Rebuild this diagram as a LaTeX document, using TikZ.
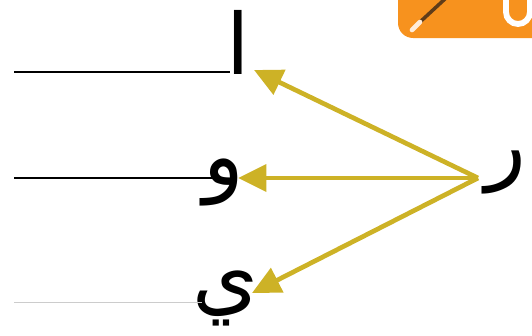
\documentclass[tikz,border=0pt]{standalone}
\usepackage{fontspec}
\usetikzlibrary{arrows.meta}
\newfontfamily\arabicfont[Script=Arabic]{DejaVu Sans}
\TeXXeTstate=1
\definecolor{arrowgold}{RGB}{205,178,38}
\definecolor{tagorange}{RGB}{247,146,30}
\definecolor{pencilbrown}{RGB}{95,60,25}
\begin{document}
\begin{tikzpicture}[
    x=0.03cm, y=-0.03cm,
    letter/.style={
        inner sep=0pt,
        font=\arabicfont\fontsize{72}{80}\selectfont
    },
    writeline/.style={
        line width=1.6pt,
        black
    },
    arrow/.style={
        -{Triangle[length=0.85cm,width=0.8cm]},
        line width=4pt,
        arrowgold
    }
]
\useasboundingbox (0,0) rectangle (532,336);

% corner tag
\begin{scope}
\clip (0,0) rectangle (532,336);
\fill[tagorange, rounded corners=0.45cm] (398,-30) rectangle (570,38);
\draw[pencilbrown, line width=3pt] (420,22) -- (446,-2);
\draw[white!85!orange, line width=4pt, line cap=round] (412,30) -- (420,22);
\draw[white, line width=5pt] (506,-2) -- (506,12) arc[start angle=180, end angle=0, radius=12] -- (530,-2);
\end{scope}

\node[letter] (alef) at (238,42) {\beginR ا\endR};
\node[letter] (waw) at (224,182) {\beginR و\endR};
\node[letter] (yeh) at (226,298) {\beginR ي\endR};
\node[letter] (ra) at (506,172) {\beginR ر\endR};

\coordinate (hub) at (478,178);
\coordinate (alefTip) at (254,70);
\coordinate (wawTip) at (238,178);
\coordinate (yehTip) at (252,293);

\draw[writeline] (14,72) -- (230,72);
\draw[writeline] (14,178) -- (214,178);
\draw[line width=0.8pt, black!20] (14,302) -- (202,302);

\draw[arrow] (hub) -- (alefTip);
\draw[arrow] (hub) -- (wawTip);
\draw[arrow] (hub) -- (yehTip);

\end{tikzpicture}
\end{document}
